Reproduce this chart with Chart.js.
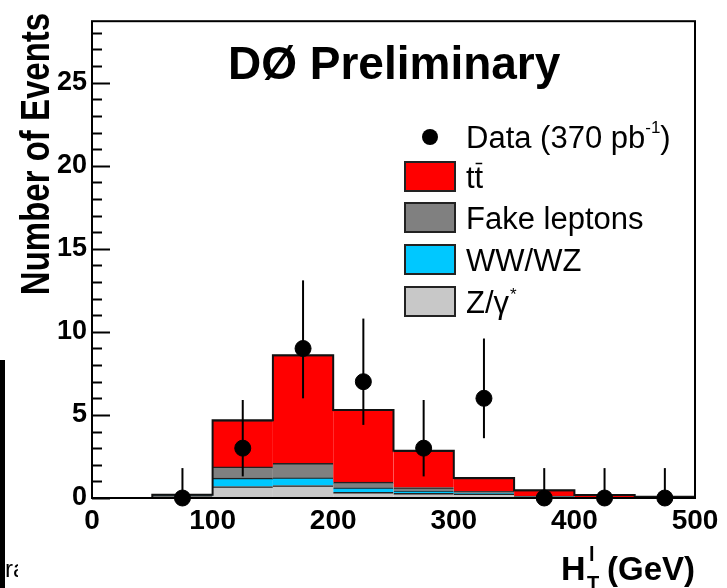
<!DOCTYPE html>
<html>
<head>
<meta charset="utf-8">
<script src="https://cdn.jsdelivr.net/npm/chart.js@4.4.1/dist/chart.umd.min.js"></script>
<style>
  body { margin: 0; background: #fff; }
  canvas { display: block; }
</style>
</head>
<body>
<canvas id="grafico" width="727" height="588"></canvas>
<script>
// bins de 50 GeV, de 50 a 500
const binCenters = [75, 125, 175, 225, 275, 325, 375, 425, 475];
const binEdges = [50, 100, 150, 200, 250, 300, 350, 400, 450, 500];

// componentes empilhadas (de baixo para cima)
const zGamma = [0.15, 0.69, 0.75, 0.34, 0.28, 0.25, 0.05, 0.02, 0.01];
const wwwz = [0, 0.51, 0.48, 0.29, 0.15, 0.05, 0.02, 0.01, 0];
const fakeLeptons = [0.05, 0.67, 0.85, 0.33, 0.20, 0.10, 0.05, 0.02, 0.01];
const ttbar = [0, 2.81, 6.52, 4.34, 2.21, 0.80, 0.35, 0.13, 0.06];

// dados e barras de erro
const dataCounts = [0, 3, 9, 7, 3, 6, 0, 0, 0];
const errLow = [0, 1.7, 3.0, 2.6, 1.7, 2.4, 0, 0, 0];
const errHigh = [1.8, 2.9, 4.1, 3.8, 2.9, 3.6, 1.8, 1.8, 1.8];

const yTicks = [0, 5, 10, 15, 20, 25];
const xTicks = [0, 100, 200, 300, 400, 500];

const corTT = "#ff0000";
const corFake = "#808080";
const corWW = "#00c8ff";
const corZ = "#c8c8c8";
const FONTE = "'Liberation Sans', Arial, Helvetica, sans-serif";

function pontos(valores) {
  return binCenters.map((x, i) => ({ x: x, y: valores[i] }));
}

// contorno do histograma (soma das componentes)
const totais = binCenters.map((_, i) => zGamma[i] + wwwz[i] + fakeLeptons[i] + ttbar[i]);
const contorno = [{ x: binEdges[0], y: 0 }];
totais.forEach((t, i) => contorno.push({ x: binEdges[i + 1], y: t }));
contorno.push({ x: binEdges[binEdges.length - 1], y: 0 });

function barra(label, valores, cor) {
  return {
    type: "bar",
    label: label,
    data: pontos(valores),
    backgroundColor: cor,
    borderColor: "#222",
    borderWidth: { top: 1.5, right: 0, bottom: 0, left: 0 },
    borderSkipped: false,
    stack: "mc",
    order: 3,
    barPercentage: 1,
    categoryPercentage: 1,
  };
}

const decor = {
  id: "decor",
  afterDatasetsDraw(chart) {
    const ctx = chart.ctx;
    const sx = chart.scales.x;
    const sy = chart.scales.y;
    ctx.save();
    ctx.strokeStyle = "#000";
    ctx.lineWidth = 2;
    binCenters.forEach((c, i) => {
      const px = sx.getPixelForValue(c);
      ctx.beginPath();
      ctx.moveTo(px, sy.getPixelForValue(dataCounts[i] - errLow[i]));
      ctx.lineTo(px, sy.getPixelForValue(dataCounts[i] + errHigh[i]));
      ctx.stroke();
    });
    ctx.restore();
  },
  afterDraw(chart) {
    const ctx = chart.ctx;
    const a = chart.chartArea;
    const sy = chart.scales.y;
    ctx.save();

    // moldura
    ctx.strokeStyle = "#000";
    ctx.lineWidth = 2;
    ctx.strokeRect(a.left, a.top, a.right - a.left, a.bottom - a.top);

    // marcas do eixo y, para dentro
    for (let v = 0; v <= 28; v++) {
      const py = Math.round(sy.getPixelForValue(v)) + 0.5;
      const len = v % 5 === 0 ? 18 : 10;
      ctx.beginPath();
      ctx.moveTo(a.left, py);
      ctx.lineTo(a.left + len, py);
      ctx.stroke();
    }

    // título
    ctx.fillStyle = "#000";
    ctx.textBaseline = "alphabetic";
    ctx.textAlign = "left";
    ctx.font = "bold 46px " + FONTE;
    ctx.fillText("DØ Preliminary", 228, 79);

    // título eixo y
    ctx.save();
    ctx.translate(49, 154);
    ctx.rotate(-Math.PI / 2);
    ctx.scale(1, 1.22);
    ctx.textAlign = "center";
    ctx.font = "bold 33px " + FONTE;
    ctx.fillText("Number of Events", 0, 0);
    ctx.restore();

    // título eixo x: H_T^l (GeV)
    ctx.font = "bold 34px " + FONTE;
    ctx.fillText("H", 561, 580);
    ctx.font = "bold 20px " + FONTE;
    ctx.fillText("l", 589, 561);
    ctx.fillText("T", 587, 590);
    ctx.font = "bold 33px " + FONTE;
    ctx.textAlign = "right";
    ctx.fillText("(GeV)", 695, 580);
    ctx.textAlign = "left";

    // legenda
    ctx.beginPath();
    ctx.arc(430, 137, 8, 0, Math.PI * 2);
    ctx.fill();
    ctx.font = "31px " + FONTE;
    ctx.fillText("Data (370 pb", 466, 148);
    let w = ctx.measureText("Data (370 pb").width;
    ctx.font = "17px " + FONTE;
    ctx.fillText("-1", 466 + w, 133);
    const w2 = ctx.measureText("-1").width;
    ctx.font = "31px " + FONTE;
    ctx.fillText(")", 466 + w + w2, 148);

    const linhas = [
      { cor: corTT, y: 162 },
      { cor: corFake, y: 203 },
      { cor: corWW, y: 245 },
      { cor: corZ, y: 287 },
    ];
    linhas.forEach((l) => {
      ctx.fillStyle = l.cor;
      ctx.fillRect(405, l.y, 50, 29);
      ctx.strokeStyle = "#222";
      ctx.lineWidth = 2;
      ctx.strokeRect(405, l.y, 50, 29);
    });
    ctx.fillStyle = "#000";
    ctx.font = "31px " + FONTE;
    ctx.fillText("tt", 466, 188);
    const tw = ctx.measureText("t").width;
    ctx.lineWidth = 1.5;
    ctx.strokeStyle = "#000";
    ctx.beginPath();
    ctx.moveTo(466 + tw + 1, 163.5);
    ctx.lineTo(466 + 2 * tw - 1, 163.5);
    ctx.stroke();
    ctx.fillText("Fake leptons", 466, 229);
    ctx.fillText("WW/WZ", 466, 271);
    ctx.fillText("Z/γ", 466, 313);
    const zw = ctx.measureText("Z/γ").width;
    ctx.font = "17px " + FONTE;
    ctx.fillText("*", 466 + zw + 1, 300);

    // restos do recorte à esquerda
    ctx.fillStyle = "#000";
    ctx.fillRect(0, 360, 5, 228);
    ctx.save();
    ctx.beginPath();
    ctx.rect(5, 540, 13, 48);
    ctx.clip();
    ctx.font = "24px " + FONTE;
    ctx.fillText("ra", 5, 577);
    ctx.restore();

    ctx.restore();
  },
};

const ctx = document.getElementById("grafico");
new Chart(ctx, {
  data: {
    datasets: [
      barra("Z/γ*", zGamma, corZ),
      barra("WW/WZ", wwwz, corWW),
      barra("Fake leptons", fakeLeptons, corFake),
      barra("tt", ttbar, corTT),
      {
        type: "line",
        label: "contorno",
        data: contorno,
        stepped: "after",
        borderColor: "#111",
        borderWidth: 2,
        pointRadius: 0,
        fill: false,
        stack: "contorno",
        order: 2,
      },
      {
        type: "scatter",
        label: "Data",
        data: pontos(dataCounts),
        backgroundColor: "#000",
        borderColor: "#000",
        pointRadius: 8,
        stack: "dados",
        order: 1,
        clip: false,
      },
    ],
  },
  options: {
    responsive: false,
    animation: false,
    layout: { padding: { top: 12, right: 32, left: 0, bottom: 0 } },
    plugins: { legend: { display: false }, tooltip: { enabled: false } },
    scales: {
      x: {
        type: "linear",
        min: 0,
        max: 500,
        offset: false,
        stacked: true,
        grid: { display: false, drawTicks: false },
        border: { display: false },
        afterBuildTicks: (s) => { s.ticks = xTicks.map((v) => ({ value: v })); },
        afterFit: (s) => { s.height = 90; },
        ticks: {
          padding: 6,
          color: "#000",
          maxRotation: 0,
          font: { family: FONTE, size: 28, weight: "bold" },
        },
      },
      y: {
        min: 0,
        max: 28.7,
        stacked: true,
        grid: { display: false, drawTicks: false },
        border: { display: false },
        afterBuildTicks: (s) => { s.ticks = yTicks.map((v) => ({ value: v })); },
        afterFit: (s) => { s.width = 92; },
        ticks: {
          padding: 5,
          color: "#000",
          font: { family: FONTE, size: 27, weight: "bold" },
        },
      },
    },
  },
  plugins: [decor],
});
</script>
</body>
</html>
